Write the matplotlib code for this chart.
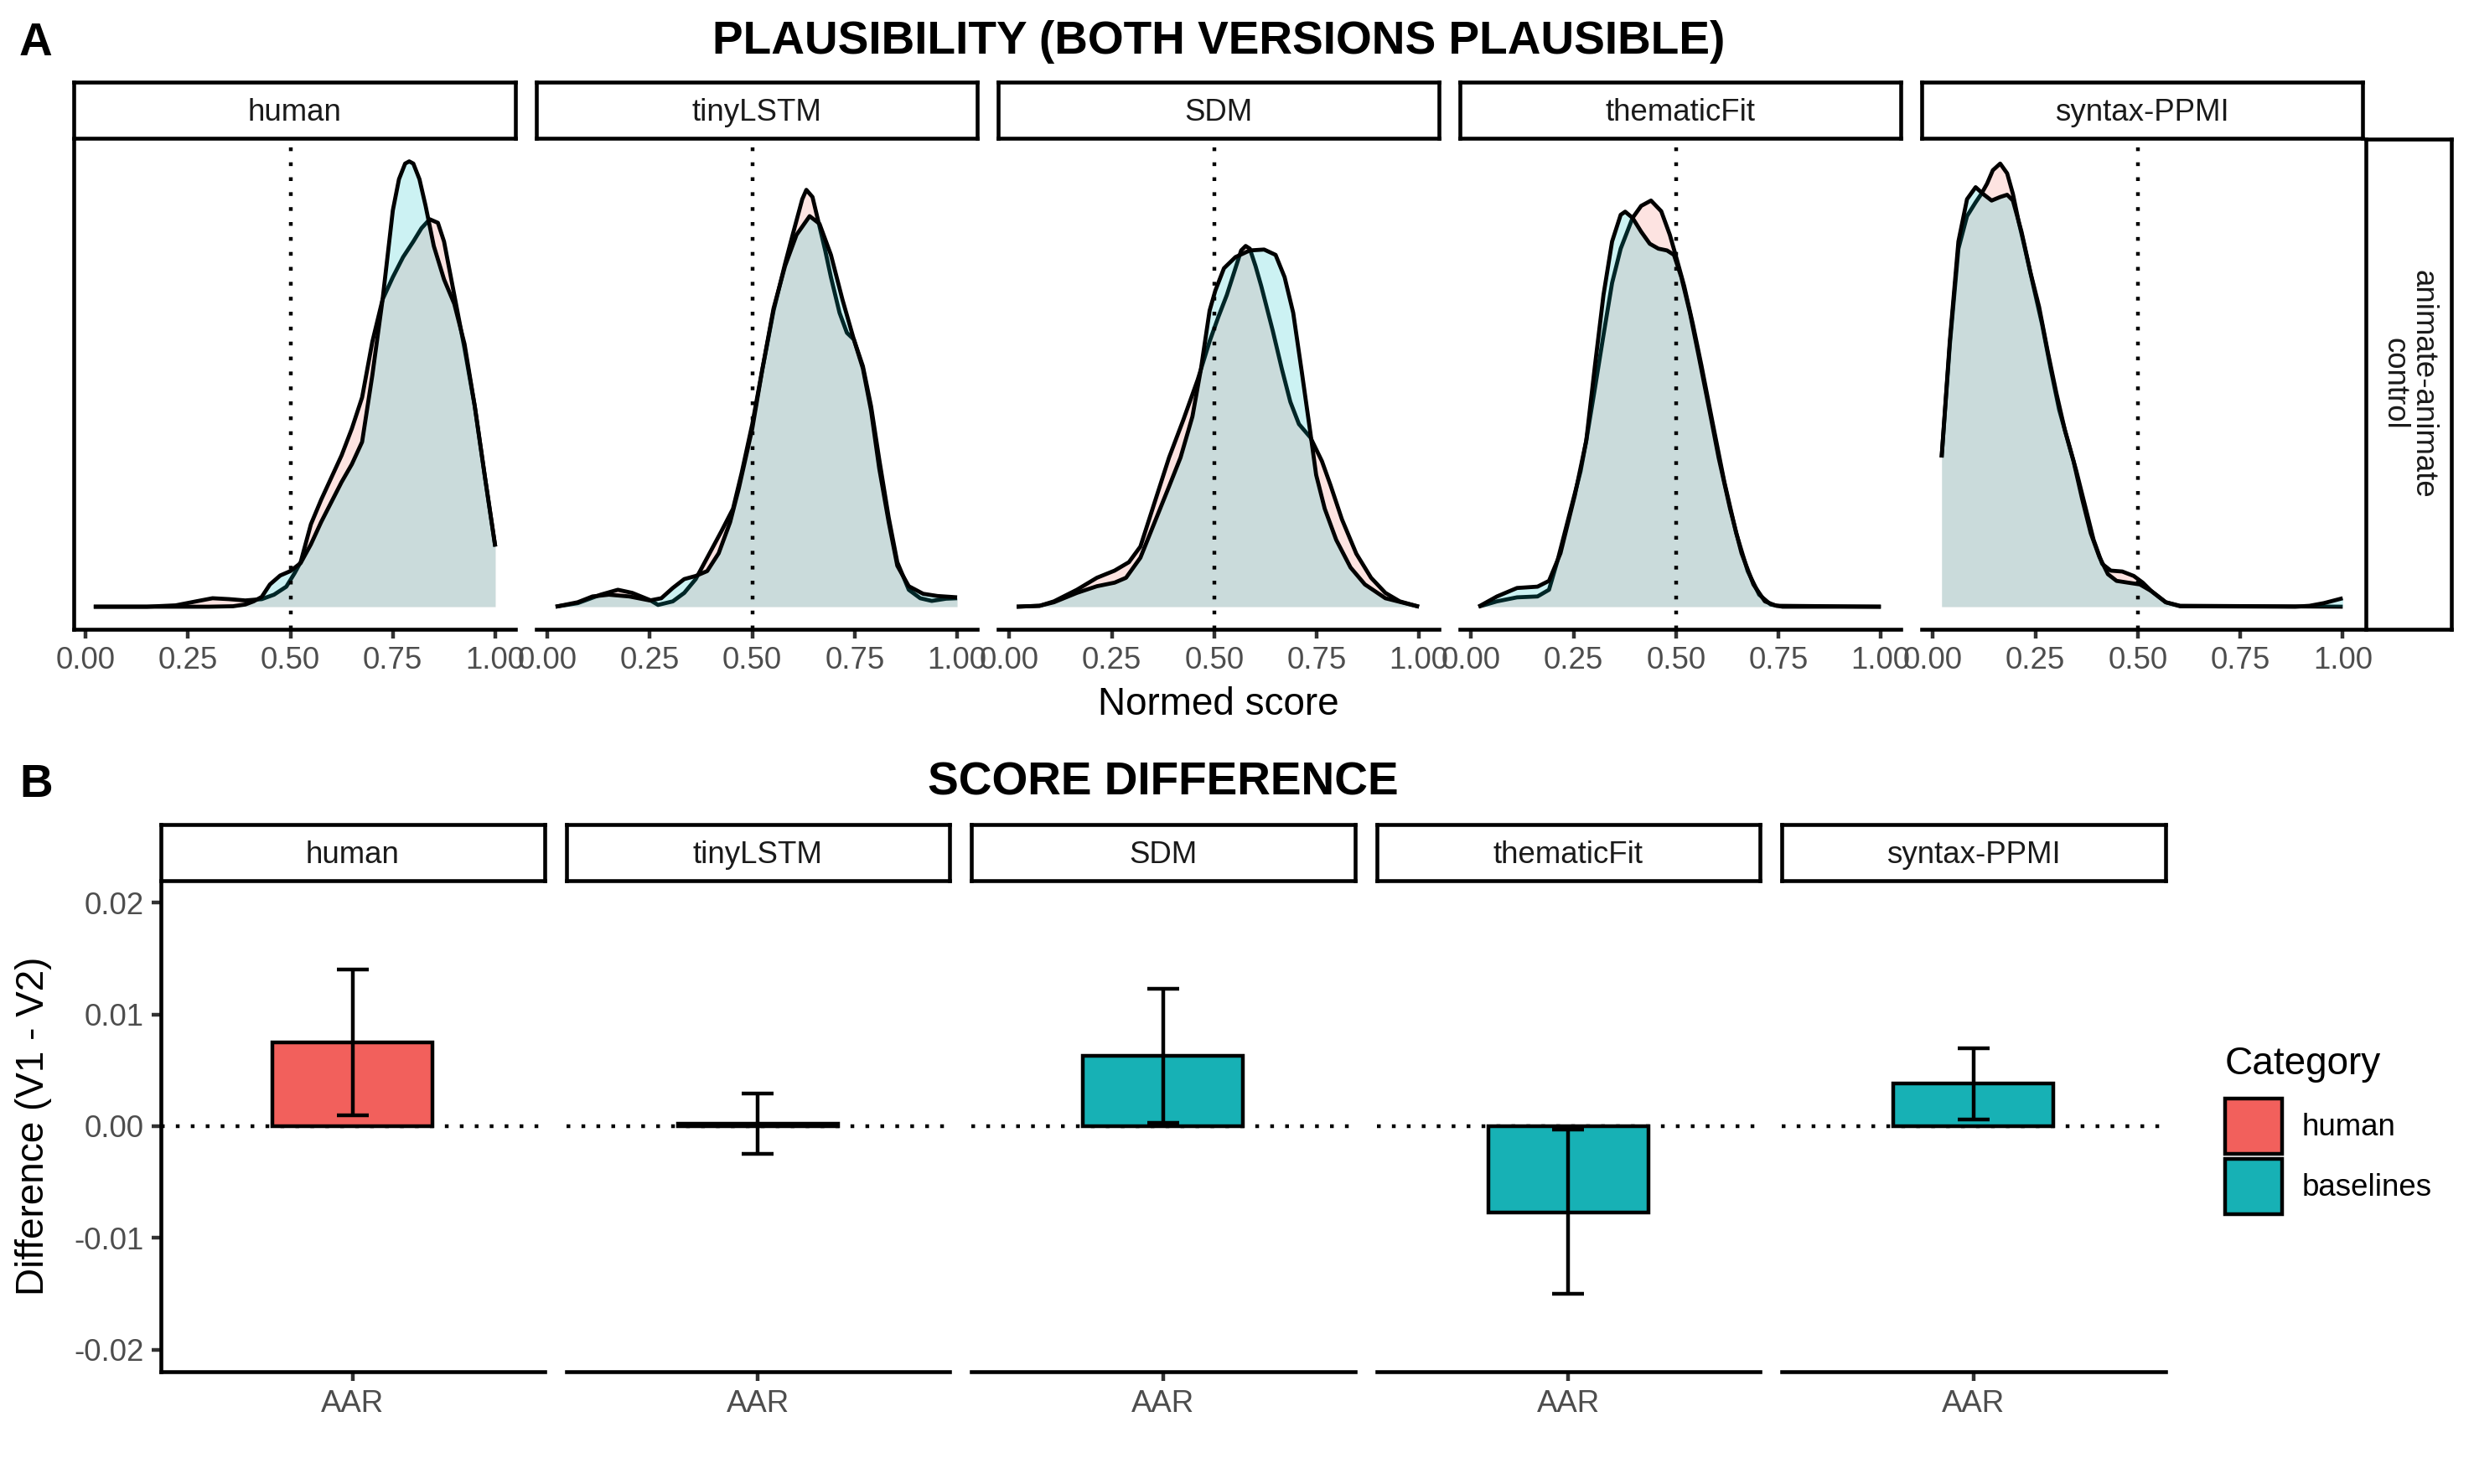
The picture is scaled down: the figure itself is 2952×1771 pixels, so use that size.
import matplotlib
matplotlib.use('Agg')
import matplotlib.pyplot as plt
from matplotlib.patches import Patch

plt.rcParams['font.family'] = ['Liberation Sans', 'DejaVu Sans']

# ---------------- DATA ----------------
models = ['human', 'tinyLSTM', 'SDM', 'thematicFit', 'syntax-PPMI']
facet_row_label = 'animate-animate\ncontrol'
x_ticks_top = [0.0, 0.25, 0.5, 0.75, 1.0]
x_tick_labels_top = ['0.00', '0.25', '0.50', '0.75', '1.00']

# density curves (relative density); V1 = red, V2 = cyan
human_v1_x = [0.02, 0.15, 0.22, 0.27, 0.31, 0.35, 0.39, 0.43, 0.46, 0.49, 0.51, 0.525, 0.55, 0.575, 0.6, 0.625,
              0.65, 0.675, 0.7, 0.725, 0.75, 0.775, 0.8, 0.82, 0.84, 0.86, 0.875, 0.9, 0.925, 0.95, 0.975, 1.0]
human_v1_y = [0, 0, 0.003, 0.012, 0.019, 0.017, 0.014, 0.017, 0.027, 0.045, 0.075, 0.10, 0.185, 0.24, 0.29, 0.34,
              0.40, 0.47, 0.595, 0.69, 0.74, 0.785, 0.82, 0.85, 0.87, 0.862, 0.82, 0.70, 0.58, 0.45, 0.29, 0.135]
human_v2_x = [0.02, 0.30, 0.36, 0.39, 0.41, 0.43, 0.45, 0.475, 0.5, 0.525, 0.55, 0.575, 0.6, 0.625, 0.65, 0.675,
              0.7, 0.725, 0.75, 0.765, 0.78, 0.79, 0.80, 0.815, 0.83, 0.85, 0.875, 0.9, 0.925, 0.95, 0.975, 1.0]
human_v2_y = [0, 0, 0.001, 0.005, 0.012, 0.022, 0.05, 0.07, 0.08, 0.098, 0.14, 0.19, 0.235, 0.28, 0.32, 0.37,
              0.52, 0.69, 0.89, 0.96, 0.995, 1.0, 0.995, 0.96, 0.90, 0.81, 0.735, 0.68, 0.59, 0.45, 0.29, 0.135]

tinylstm_v1_x = [0.02, 0.074, 0.13, 0.172, 0.207, 0.25, 0.27, 0.306, 0.334, 0.362, 0.39, 0.425, 0.453, 0.474, 0.5,
                 0.524, 0.552, 0.58, 0.6, 0.622, 0.632, 0.647, 0.66, 0.678, 0.692, 0.713, 0.731, 0.748, 0.77, 0.79,
                 0.81, 0.833, 0.854, 0.882, 0.91, 0.938, 0.973, 1.0]
tinylstm_v1_y = [0, 0.008, 0.027, 0.038, 0.031, 0.015, 0.004, 0.012, 0.031, 0.062, 0.11, 0.17, 0.22, 0.30, 0.41,
                 0.53, 0.665, 0.77, 0.84, 0.915, 0.936, 0.92, 0.87, 0.80, 0.74, 0.66, 0.615, 0.60, 0.54, 0.45,
                 0.33, 0.20, 0.10, 0.038, 0.019, 0.013, 0.018, 0.019]
tinylstm_v2_x = [0.02, 0.074, 0.11, 0.15, 0.2, 0.25, 0.278, 0.306, 0.334, 0.362, 0.39, 0.418, 0.446, 0.467, 0.5,
                 0.524, 0.552, 0.58, 0.608, 0.64, 0.664, 0.692, 0.72, 0.748, 0.77, 0.79, 0.81, 0.833, 0.854, 0.882,
                 0.917, 0.952, 1.0]
tinylstm_v2_y = [0, 0.01, 0.023, 0.027, 0.023, 0.014, 0.019, 0.042, 0.062, 0.069, 0.08, 0.12, 0.19, 0.265, 0.40,
                 0.53, 0.67, 0.765, 0.835, 0.877, 0.86, 0.79, 0.69, 0.60, 0.535, 0.44, 0.31, 0.19, 0.092, 0.046,
                 0.029, 0.024, 0.021]

sdm_v1_x = [0.018, 0.074, 0.109, 0.165, 0.214, 0.257, 0.292, 0.32, 0.355, 0.39, 0.425, 0.46, 0.489, 0.51, 0.531,
            0.552, 0.566, 0.577, 0.587, 0.601, 0.615, 0.629, 0.643, 0.665, 0.686, 0.707, 0.735, 0.763, 0.784,
            0.812, 0.847, 0.883, 0.918, 0.953, 1.0]
sdm_v1_y = [0, 0.002, 0.012, 0.038, 0.065, 0.081, 0.10, 0.135, 0.235, 0.335, 0.42, 0.51, 0.596, 0.65, 0.70,
            0.76, 0.80, 0.81, 0.804, 0.765, 0.72, 0.67, 0.62, 0.535, 0.46, 0.41, 0.38, 0.327, 0.273,
            0.196, 0.119, 0.065, 0.031, 0.012, 0]
sdm_v2_x = [0.018, 0.074, 0.109, 0.165, 0.214, 0.257, 0.285, 0.32, 0.355, 0.39, 0.418, 0.447, 0.468, 0.489, 0.503,
            0.524, 0.552, 0.587, 0.622, 0.65, 0.672, 0.693, 0.714, 0.735, 0.749, 0.77, 0.798, 0.833, 0.868, 0.918,
            1.0]
sdm_v2_y = [0, 0.002, 0.01, 0.031, 0.046, 0.054, 0.065, 0.11, 0.19, 0.27, 0.335, 0.427, 0.535, 0.665, 0.71,
            0.76, 0.785, 0.80, 0.802, 0.79, 0.74, 0.66, 0.527, 0.39, 0.296, 0.22, 0.15, 0.088, 0.05, 0.019, 0]

thematic_v1_x = [0.018, 0.063, 0.112, 0.162, 0.19, 0.211, 0.239, 0.267, 0.281, 0.302, 0.323, 0.344, 0.365, 0.394,
                 0.415, 0.439, 0.464, 0.485, 0.502, 0.52, 0.541, 0.562, 0.59, 0.618, 0.647, 0.675, 0.703, 0.731,
                 0.76, 1.0]
thematic_v1_y = [0, 0.012, 0.021, 0.023, 0.038, 0.104, 0.204, 0.304, 0.373, 0.49, 0.61, 0.727, 0.804, 0.873,
                 0.90, 0.912, 0.888, 0.835, 0.78, 0.72, 0.635, 0.542, 0.41, 0.28, 0.165, 0.08, 0.027, 0.005,
                 0, 0]
thematic_v2_x = [0.018, 0.063, 0.112, 0.162, 0.19, 0.218, 0.253, 0.281, 0.302, 0.323, 0.344, 0.365, 0.376, 0.394,
                 0.415, 0.436, 0.457, 0.478, 0.495, 0.513, 0.534, 0.555, 0.583, 0.604, 0.632, 0.66, 0.689, 0.717,
                 0.745, 1.0]
thematic_v2_y = [0, 0.023, 0.042, 0.045, 0.058, 0.12, 0.25, 0.373, 0.54, 0.70, 0.82, 0.88, 0.887, 0.873,
                 0.842, 0.815, 0.804, 0.80, 0.79, 0.74, 0.66, 0.565, 0.435, 0.335, 0.22, 0.12, 0.05, 0.012,
                 0.002, 0]

ppmi_v1_x = [0.021, 0.041, 0.062, 0.083, 0.104, 0.118, 0.132, 0.146, 0.164, 0.181, 0.195, 0.209, 0.223, 0.245,
             0.266, 0.287, 0.308, 0.329, 0.35, 0.371, 0.392, 0.413, 0.434, 0.462, 0.49, 0.512, 0.533, 0.568,
             0.603, 1.0]
ppmi_v1_y = [0.335, 0.588, 0.804, 0.877, 0.908, 0.927, 0.95, 0.98, 0.995, 0.973, 0.927, 0.865, 0.81, 0.72,
             0.635, 0.535, 0.442, 0.373, 0.304, 0.227, 0.15, 0.096, 0.081, 0.079, 0.069, 0.054, 0.035, 0.01,
             0.002, 0]
ppmi_v2_x = [0.021, 0.041, 0.062, 0.083, 0.104, 0.122, 0.143, 0.164, 0.181, 0.195, 0.216, 0.238, 0.259, 0.28,
             0.301, 0.322, 0.343, 0.364, 0.385, 0.406, 0.427, 0.448, 0.476, 0.505, 0.533, 0.568, 0.603, 0.884,
             0.919, 0.954, 1.0]
ppmi_v2_y = [0.335, 0.596, 0.82, 0.915, 0.942, 0.927, 0.912, 0.92, 0.925, 0.912, 0.842, 0.75, 0.673, 0.573,
             0.48, 0.396, 0.327, 0.242, 0.165, 0.112, 0.073, 0.058, 0.054, 0.05, 0.035, 0.01, 0.001, 0,
             0.002, 0.008, 0.019]

# score differences (V1 - V2)
diff_mean = [0.0075, 0.0002, 0.0063, -0.0077, 0.0038]
diff_low = [0.0010, -0.0025, 0.0003, -0.0150, 0.0006]
diff_high = [0.0140, 0.0029, 0.0123, -0.0003, 0.0070]
model_category = ['human', 'baselines', 'baselines', 'baselines', 'baselines']
condition_label = 'AAR'
y_ticks_bottom = [-0.02, -0.01, 0.0, 0.01, 0.02]
y_tick_labels_bottom = ['-0.02', '-0.01', '0.00', '0.01', '0.02']
category_names = ['human', 'baselines']

densities = {
    'human': ((human_v1_x, human_v1_y), (human_v2_x, human_v2_y)),
    'tinyLSTM': ((tinylstm_v1_x, tinylstm_v1_y), (tinylstm_v2_x, tinylstm_v2_y)),
    'SDM': ((sdm_v1_x, sdm_v1_y), (sdm_v2_x, sdm_v2_y)),
    'thematicFit': ((thematic_v1_x, thematic_v1_y), (thematic_v2_x, thematic_v2_y)),
    'syntax-PPMI': ((ppmi_v1_x, ppmi_v1_y), (ppmi_v2_x, ppmi_v2_y)),
}

# ---------------- STYLE ----------------
W, H, DPI = 2952, 1771, 300
C_V1, C_V2 = '#F8766D', '#00BFC4'
CAT_COL = {'human': '#F2605C', 'baselines': '#17B1B5'}
LW = 1.07
AXLW = 1.1
TICK_COL = '#333333'
TXT_COL = '#4D4D4D'
STRIP_COL = '#1A1A1A'
DOT = (0, (1, 3))

fig = plt.figure(figsize=(W / DPI, H / DPI), dpi=DPI)


def rect(x0, y0, x1, y1):
    return [x0 / W, 1 - y1 / H, (x1 - x0) / W, (y1 - y0) / H]


def strip(x0, y0, x1, y1, label, rotation=0):
    s = fig.add_axes(rect(x0, y0, x1, y1))
    s.set_xticks([]); s.set_yticks([])
    for sp in s.spines.values():
        sp.set_linewidth(AXLW); sp.set_color('black')
    if rotation == 0:
        # baseline placed so that the cap height is centred in the strip
        base = (y0 + y1) / 2 + 13
        fig.text(((x0 + x1) / 2) / W, 1 - base / H, label, ha='center', va='baseline',
                 fontsize=8.8, color=STRIP_COL)
    else:
        s.text(0.5, 0.5, label, transform=s.transAxes, ha='center', va='center',
               fontsize=8.8, color=STRIP_COL, rotation=rotation, multialignment='center',
               linespacing=0.95)
    return s


def style_axis(ax, left):
    for k in ['top', 'right']:
        ax.spines[k].set_visible(False)
    ax.spines['left'].set_visible(left)
    for k in ['left', 'bottom']:
        ax.spines[k].set_linewidth(AXLW)
        ax.spines[k].set_color('black')
    ax.tick_params(axis='both', length=2.75, width=LW, color=TICK_COL,
                   labelsize=8.8, labelcolor=TXT_COL, pad=2.2)
    ax.set_facecolor('none')


# ---------------- PANEL A ----------------
fig.text(23 / W, 1 - 66 / H, 'A', fontsize=13.2, fontweight='bold', ha='left', va='baseline')
top_left, top_w, top_gap = 88.4, 526.5, 24.6
top_y0, top_y1 = 166, 750.6
all_h = [v for m in models for cur in densities[m] for v in cur[1]]
M = max(all_h)
right_edge = top_left + 5 * top_w + 4 * top_gap
fig.text(((top_left + right_edge) / 2) / W, 1 - 64 / H, 'PLAUSIBILITY (BOTH VERSIONS PLAUSIBLE)',
         fontsize=13.2, fontweight='bold', ha='center', va='baseline')

for i, m in enumerate(models):
    x0 = top_left + i * (top_w + top_gap)
    ax = fig.add_axes(rect(x0, top_y0, x0 + top_w, top_y1))
    (xa, ya), (xb, yb) = densities[m]
    ax.fill_between(xa, 0, ya, color=C_V1, alpha=0.2, lw=0, zorder=1)
    ax.plot(xa, ya, color='black', lw=1.15, solid_capstyle='butt', solid_joinstyle='round', zorder=2)
    ax.fill_between(xb, 0, yb, color=C_V2, alpha=0.2, lw=0, zorder=3)
    ax.plot(xb, yb, color='black', lw=1.15, solid_capstyle='butt', solid_joinstyle='round', zorder=4)
    ax.axvline(0.5, color='black', lw=LW, ls=DOT, dash_capstyle='butt', zorder=5)
    ax.set_xlim(-0.028, 1.049)
    ax.set_ylim(-0.05 * M, 1.05 * M)
    ax.set_xticks(x_ticks_top)
    ax.set_xticklabels(x_tick_labels_top)
    ax.set_yticks([])
    style_axis(ax, left=(i == 0))
    strip(x0, 97.6, x0 + top_w, 165.3, m)

strip(right_edge + 4, top_y0, right_edge + 106, top_y1, facet_row_label, rotation=270)
fig.text(((top_left + right_edge) / 2) / W, 1 - 853 / H, 'Normed score', fontsize=11,
         ha='center', va='baseline')

# ---------------- PANEL B ----------------
fig.text(23 / W, 1 - 951 / H, 'B', fontsize=13.2, fontweight='bold', ha='left', va='baseline')
bot_left, bot_w, bot_gap = 192, 457.5, 26
bot_y0, bot_y1 = 1050.5, 1637.4
bot_right = bot_left + 5 * bot_w + 4 * bot_gap
fig.text(((bot_left + bot_right) / 2) / W, 1 - 949 / H, 'SCORE DIFFERENCE',
         fontsize=13.2, fontweight='bold', ha='center', va='baseline')

for i, m in enumerate(models):
    x0 = bot_left + i * (bot_w + bot_gap)
    ax = fig.add_axes(rect(x0, bot_y0, x0 + bot_w, bot_y1))
    ax.axhline(0, color='black', lw=LW, ls=DOT, dash_capstyle='butt', zorder=1)
    ax.bar([condition_label], [diff_mean[i]], width=0.5, color=CAT_COL[model_category[i]],
           edgecolor='black', linewidth=LW, zorder=2)
    ax.vlines([condition_label], [diff_low[i]], [diff_high[i]], color='black', lw=LW, zorder=3)
    ax.hlines([diff_low[i], diff_high[i]], -0.05, 0.05, color='black', lw=LW, zorder=3)
    ax.set_xlim(-0.6, 0.6)
    ax.set_ylim(-0.022, 0.022)
    if i == 0:
        ax.set_yticks(y_ticks_bottom)
        ax.set_yticklabels(y_tick_labels_bottom)
    else:
        ax.set_yticks([])
    style_axis(ax, left=(i == 0))
    strip(x0, 984, x0 + bot_w, 1050.5, m)

fig.text(40 / W, 1 - 1344 / H, 'Difference (V1 - V2)', fontsize=11, rotation=90,
         ha='center', va='center')

# legend (title placed separately for exact spacing)
fig.text(2655 / W, 1 - 1282 / H, 'Category', fontsize=11, ha='left', va='baseline')
handles = [Patch(facecolor=CAT_COL[c], edgecolor='black', linewidth=LW) for c in category_names]
fig.legend(handles=handles, labels=category_names, loc='upper left',
           bbox_to_anchor=(2655 / W, 1 - 1311 / H), frameon=False, fontsize=8.8,
           handlelength=1.85, handleheight=2.39, labelspacing=0.153, handletextpad=0.65,
           borderpad=0, borderaxespad=0)

fig.savefig('out.png', dpi=DPI, facecolor='white')
